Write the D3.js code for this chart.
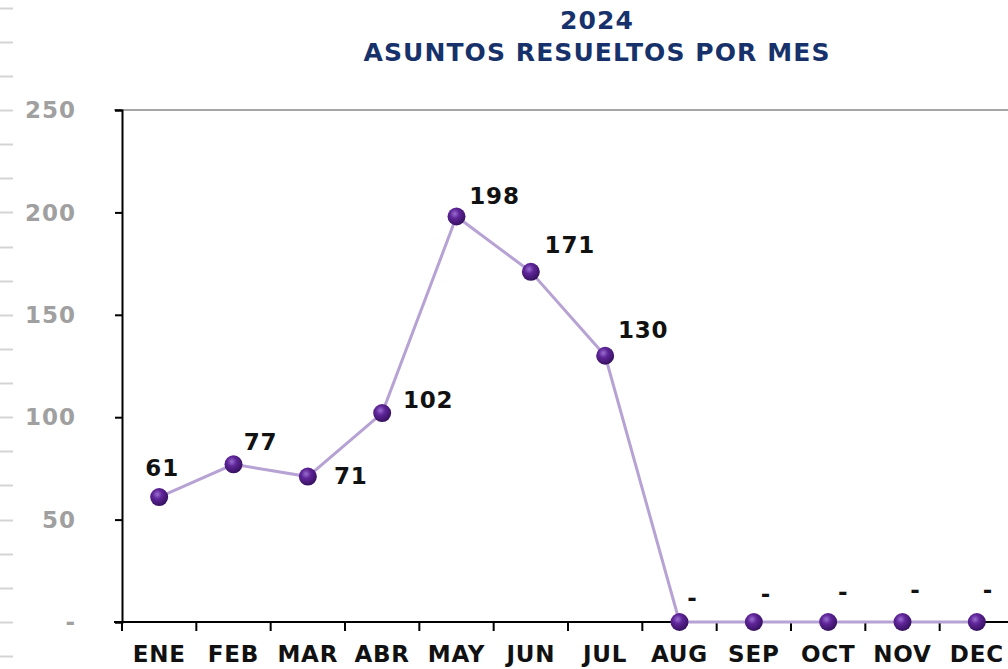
<!DOCTYPE html>
<html>
<head>
<meta charset="utf-8">
<script src="https://cdn.jsdelivr.net/npm/d3@7"></script>
<style>
  body { margin: 0; background: #fff; }
  svg { display: block; }
  text { font-family: "DejaVu Sans", Verdana, sans-serif; font-weight: bold; }
</style>
</head>
<body>
<div></div>
<script>
var months = ["ENE", "FEB", "MAR", "ABR", "MAY", "JUN", "JUL", "AUG", "SEP", "OCT", "NOV", "DEC"];
var resueltos = [61, 77, 71, 102, 198, 171, 130, 0, 0, 0, 0, 0];
var yTicks = [0, 50, 100, 150, 200, 250];
// where each value label sits relative to its point
var labelDx = [3, 27, 43, 46, 38, 39, 38, 13, 12, 15, 13, 11];
var labelDy = [-29, -23, -1, -13, -21, -27, -26, -24, -28, -30, -32, -32];

var width = 1008,
    height = 669,
    margin = { top: 110, right: -6, bottom: 47, left: 122 };

var svg = d3.select("div")
    .append("svg")
    .attr("width", width)
    .attr("height", height);

var x = d3.scaleBand()
    .domain(months)
    .range([margin.left, width - margin.right]);

var y = d3.scaleLinear()
    .domain([0, 250])
    .range([height - margin.bottom, margin.top]);

var fmt = function (d) { return d === 0 ? "-" : d; };

// faint sheet row marks down the left edge
var rowStep = 50 / 3;
svg.append("g")
    .selectAll("line")
    .data(d3.range(-1, 19).map(function (i) { return 300 - i * rowStep; }).concat([-rowStep]))
    .enter().append("line")
    .attr("x1", 0).attr("x2", 13)
    .attr("y1", function (d) { return Math.round(y(d)) + 0.5; })
    .attr("y2", function (d) { return Math.round(y(d)) + 0.5; })
    .attr("stroke", "#d4d4d4")
    .attr("stroke-width", 2);

// title
svg.append("text")
    .attr("x", 597).attr("y", 29)
    .attr("text-anchor", "middle")
    .attr("fill", "#17326b")
    .attr("font-size", 25)
    .attr("letter-spacing", 1.1)
    .text("2024");
svg.append("text")
    .attr("x", 597).attr("y", 61)
    .attr("text-anchor", "middle")
    .attr("fill", "#17326b")
    .attr("font-size", 25)
    .attr("letter-spacing", 1.1)
    .text("ASUNTOS RESUELTOS POR MES");

// top border of plot area
svg.append("line")
    .attr("x1", margin.left - 8).attr("x2", width)
    .attr("y1", y(250)).attr("y2", y(250))
    .attr("stroke", "#a6a6a6")
    .attr("stroke-width", 2);

// y axis
var yAxis = svg.append("g")
    .attr("transform", "translate(" + margin.left + ",0)")
    .call(d3.axisLeft(y).tickValues(yTicks).tickSize(7).tickFormat(""));
yAxis.select(".domain").attr("stroke", "#000").attr("stroke-width", 2);
yAxis.selectAll(".tick line").attr("stroke", "#000").attr("stroke-width", 2);

svg.append("g")
    .selectAll("text")
    .data(yTicks)
    .enter().append("text")
    .attr("x", 76)
    .attr("y", function (d) { return y(d); })
    .attr("dy", "0.36em")
    .attr("text-anchor", "end")
    .attr("fill", "#a0a0a0")
    .attr("font-size", 23)
    .attr("letter-spacing", 1)
    .text(fmt);

// x axis
var gx = svg.append("g")
    .attr("transform", "translate(0," + y(0) + ")");
gx.append("line")
    .attr("x1", margin.left - 8).attr("x2", width)
    .attr("stroke", "#000").attr("stroke-width", 2);
gx.selectAll(".tk")
    .data(months)
    .enter().append("line")
    .attr("x1", function (d) { return x(d); })
    .attr("x2", function (d) { return x(d); })
    .attr("y1", 0).attr("y2", 9)
    .attr("stroke", "#000").attr("stroke-width", 2);
gx.selectAll("text")
    .data(months)
    .enter().append("text")
    .attr("x", function (d) { return x(d) + x.bandwidth() / 2; })
    .attr("y", 40)
    .attr("text-anchor", "middle")
    .attr("fill", "#111")
    .attr("font-size", 23)
    .attr("letter-spacing", 0.8)
    .text(function (d) { return d; });

// line
var cx = function (d, i) { return x(months[i]) + x.bandwidth() / 2; };
svg.append("path")
    .datum(resueltos)
    .attr("fill", "none")
    .attr("stroke", "#b7a2d4")
    .attr("stroke-width", 3)
    .attr("d", d3.line().x(cx).y(function (d) { return y(d); }));

// sphere markers
var grad = svg.append("defs").append("radialGradient")
    .attr("id", "ball")
    .attr("cx", "40%").attr("cy", "35%").attr("r", "65%");
grad.append("stop").attr("offset", "0%").attr("stop-color", "#9a6fcf");
grad.append("stop").attr("offset", "40%").attr("stop-color", "#5f2599");
grad.append("stop").attr("offset", "100%").attr("stop-color", "#36115f");

svg.append("g")
    .selectAll("circle")
    .data(resueltos)
    .enter().append("circle")
    .attr("cx", cx)
    .attr("cy", function (d) { return y(d); })
    .attr("r", 9)
    .attr("fill", "url(#ball)");

// value labels
svg.append("g")
    .selectAll("text")
    .data(resueltos)
    .enter().append("text")
    .attr("x", function (d, i) { return cx(d, i) + labelDx[i]; })
    .attr("y", function (d, i) { return y(d) + labelDy[i]; })
    .attr("dy", "0.36em")
    .attr("text-anchor", "middle")
    .attr("fill", "#111")
    .attr("font-size", 23)
    .attr("letter-spacing", 0.8)
    .text(fmt);
</script>
</body>
</html>
